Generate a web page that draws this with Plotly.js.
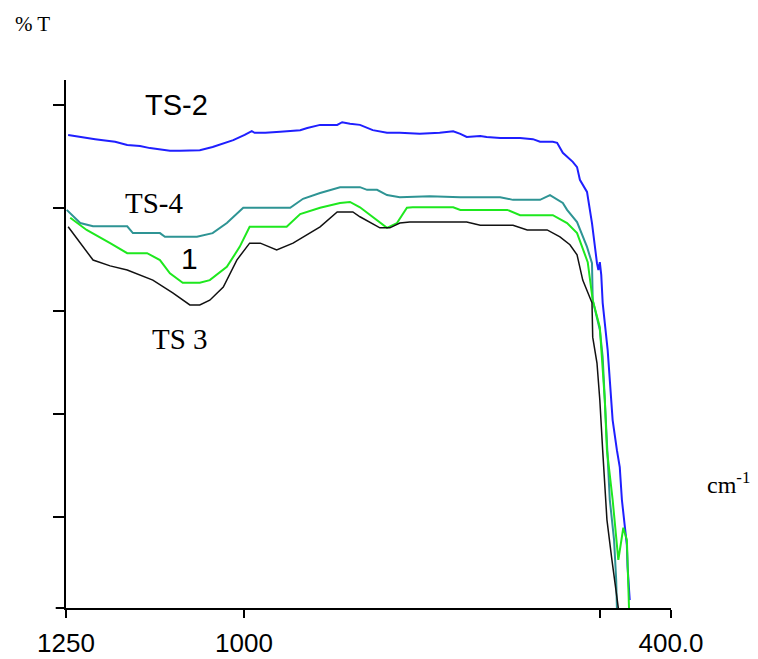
<!DOCTYPE html>
<html>
<head>
<meta charset="utf-8">
<script src="https://cdn.plot.ly/plotly-3.0.1.min.js"></script>
<style>html,body{margin:0;padding:0;background:#fff;}#chart{width:758px;height:659px;}</style>
</head>
<body>
<div id="chart"></div>
<script>
// Wavenumber (cm-1) and %T values
const ts2_x = [1247,1230,1209,1198,1181,1164,1146,1132,1118,1104,1090,1076,1062,1044,1027,1015,999,992,989,985,970,949,935,921,911,893,869,862,851,837,819,799,781,753,725,706,696,687,668,659,640,612,594,584,566,560,552,538,532,528,518,511,504,502,500,498,496,489,486,482,476,472,469,465,462,461,459,458];
const ts2_y = [89.6,89.2,88.8,88.6,88.3,87.7,87.5,87.1,86.9,86.6,86.6,86.6,86.7,87.3,88.1,88.6,89.6,90.0,90.3,90.0,90.0,90.2,90.3,90.5,90.9,91.5,91.5,92.0,91.7,91.5,90.5,90.0,90.0,89.8,90.0,90.3,89.8,89.2,89.4,89.2,89.0,89.0,88.8,88.3,88.3,88.1,86.2,84.5,83.5,81.1,78.8,72.9,65.3,64.0,65.5,63.1,57.8,48.9,43.2,35.6,29.9,26.7,20.5,16.1,11.9,7.8,4.4,1.5,0];
const ts4_x = [1249,1230,1212,1164,1156,1118,1111,1066,1044,1024,1001,935,917,893,865,837,827,813,799,781,739,696,640,622,584,570,552,546,532,518,511,510,500,496,493,489,486,480,477,476];
const ts4_y = [75.4,72.9,72.3,72.3,71.0,71.0,70.3,70.3,71.0,72.9,75.8,75.8,77.5,78.6,79.7,79.7,79.2,79.2,78.2,77.8,78.0,77.8,77.8,77.3,77.3,78.2,76.7,75.4,73.1,68.4,65.3,58.3,52.7,47.5,39.4,29.9,20.5,12.9,5.3,0];
const s1_x = [1244,1221,1188,1164,1136,1118,1104,1086,1062,1048,1024,1006,992,968,940,921,893,865,851,837,819,799,785,771,763,706,696,630,612,566,546,532,517,510,500,493,490,482,474,467,462,460,459];
const s1_y = [73.9,71.6,69.1,67.2,67.2,65.9,63.4,61.6,61.6,62.1,64.6,68.4,72.2,72.2,72.2,74.6,75.8,76.7,76.9,75.9,74.1,72.0,72.9,75.8,75.9,75.9,75.4,75.4,74.4,74.4,72.9,71.0,65.5,58.3,53.2,39.4,29.9,20.5,9.1,15.2,12.9,5.3,0];
const ts3_x = [1247,1230,1212,1188,1164,1128,1100,1076,1062,1048,1029,1010,992,977,954,931,893,869,847,837,809,795,781,767,687,668,622,602,574,556,542,532,524,511,510,504,500,496,493,490,483,477,474];
const ts3_y = [72.2,69.1,65.9,64.8,64.0,62.1,59.7,57.4,57.4,58.3,60.8,65.9,69.1,69.1,67.8,69.1,72.2,75.0,75.0,74.1,72.0,72.0,72.9,73.1,73.1,72.5,72.5,71.6,71.6,70.3,68.8,66.9,62.1,57.8,51.3,46.4,39.4,29.9,24.2,16.7,9.1,3.4,0];
const xTickVals = [1250, 1000, 500, 400];
const xTickText = ['1250', '1000', ' ', '400.0'];
const yTickVals = [17.3, 36.8, 56.3, 75.8, 95.3];

const sansN = 'Liberation Sans Narrow, Arial Narrow, Liberation Sans, Arial, sans-serif';
const serif = 'Liberation Serif, Times New Roman, serif';

const traces = [
  {x: ts2_x, y: ts2_y, mode: 'lines', name: 'TS-2', line: {color: '#1f1fff', width: 2}},
  {x: ts4_x, y: ts4_y, mode: 'lines', name: 'TS-4', line: {color: '#2e9494', width: 2}},
  {x: s1_x, y: s1_y, mode: 'lines', name: '1', line: {color: '#1ee81e', width: 2}},
  {x: ts3_x, y: ts3_y, mode: 'lines', name: 'TS 3', line: {color: '#111111', width: 1.5}}
];

const layout = {
  width: 758, height: 659,
  margin: {l: 66, r: 87, t: 80, b: 51, pad: 0},
  paper_bgcolor: '#ffffff', plot_bgcolor: '#ffffff',
  showlegend: false,
  xaxis: {
    range: [1250, 400], showgrid: false, zeroline: false,
    showline: true, linecolor: '#000', linewidth: 2,
    ticks: 'outside', ticklen: 8, tickwidth: 2, tickcolor: '#000',
    tickmode: 'array', tickvals: xTickVals, ticktext: xTickText,
    ticklabelstandoff: 3,
    tickfont: {family: sansN, size: 26, color: '#000'}
  },
  yaxis: {
    range: [0, 100], showgrid: false, zeroline: false,
    showline: true, linecolor: '#000', linewidth: 2,
    ticks: 'outside', ticklen: 11, tickwidth: 2, tickcolor: '#000',
    tickmode: 'array', tickvals: yTickVals, showticklabels: false
  },
  shapes: [
    {type: 'line', xref: 'paper', yref: 'paper', x0: -0.017, x1: 0, y0: 0, y1: 0, line: {color: '#000', width: 2}}
  ],
  annotations: [
    {x: 1095, y: 95.3, text: 'TS-2', showarrow: false, font: {family: sansN, size: 29, color: '#000'}},
    {x: 1126, y: 76.7, text: 'TS-4', showarrow: false, font: {family: serif, size: 29, color: '#000'}},
    {x: 1077, y: 66.1, text: '1', showarrow: false, font: {family: sansN, size: 30, color: '#000'}},
    {x: 1090, y: 51.0, text: 'TS 3', showarrow: false, font: {family: serif, size: 29, color: '#000'}},
    {xref: 'paper', yref: 'paper', x: -0.088, xanchor: 'left', y: 1.106, yanchor: 'middle', text: '% T', showarrow: false, font: {family: serif, size: 21, color: '#000'}},
    {xref: 'paper', yref: 'paper', x: 1.056, xanchor: 'left', y: 0.236, yanchor: 'middle', text: 'cm<sup>-1</sup>', showarrow: false, font: {family: serif, size: 24, color: '#000'}}
  ]
};

Plotly.newPlot('chart', traces, layout, {displayModeBar: false, staticPlot: true});
</script>
</body>
</html>
